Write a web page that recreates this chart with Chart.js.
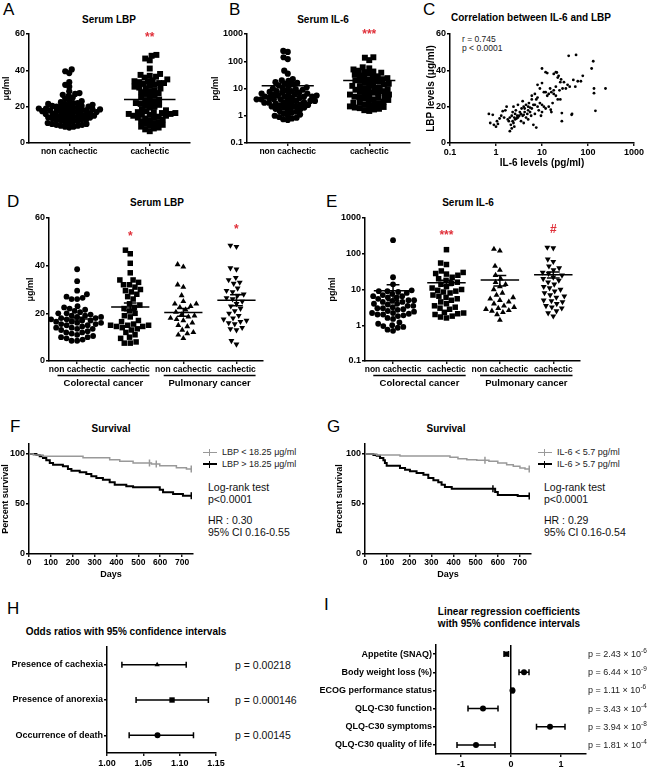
<!DOCTYPE html>
<html><head><meta charset="utf-8">
<script src="https://cdn.jsdelivr.net/npm/chart.js@4.4.1/dist/chart.umd.min.js"></script>
<style>
html,body{margin:0;padding:0;background:#fff;}
body{width:650px;height:770px;position:relative;overflow:hidden;font-family:'Liberation Sans',Arial,sans-serif;color:#000;}
canvas{position:absolute;}
.L{position:absolute;font-size:17px;line-height:17px;}
.T{position:absolute;font-weight:bold;font-size:10px;white-space:nowrap;transform:translate(-50%,-50%);}
.A{position:absolute;font-size:10.5px;white-space:nowrap;transform:translateY(-50%);color:#111;}
.S{position:absolute;font-size:8.5px;white-space:nowrap;transform:translateY(-50%);color:#222;}
.leg{position:absolute;font-size:9px;white-space:nowrap;transform:translateY(-50%);display:flex;align-items:center;color:#222;}
.sym{display:inline-block;width:14px;height:0;position:relative;margin-right:5px;}
.sym::after{content:'';position:absolute;left:6px;top:-4px;height:7px;border-left:1.5px solid;border-color:inherit;}
.sym.g{border-top:1.5px solid #999;border-color:#999;}
.sym.k{border-top:2px solid #000;border-color:#000;}
.P{position:absolute;font-size:10.5px;white-space:nowrap;transform:translateY(-50%);color:#111;}
.Q{position:absolute;font-size:9px;white-space:nowrap;transform:translateY(-50%);color:#222;}
.Q sup{font-size:6.5px;vertical-align:4px;line-height:0;}
</style></head><body>
<div class="L" style="left:3px;top:1px">A</div>
<div class="L" style="left:229px;top:1px">B</div>
<div class="L" style="left:423px;top:1px">C</div>
<div class="L" style="left:7px;top:193px">D</div>
<div class="L" style="left:326px;top:193px">E</div>
<div class="L" style="left:10px;top:418px">F</div>
<div class="L" style="left:327px;top:418px">G</div>
<div class="L" style="left:7px;top:600px">H</div>
<div class="L" style="left:324px;top:596px">I</div>

<div class="T" style="left:109px;top:19px">Serum LBP</div>
<div class="T" style="left:323px;top:19px">Serum IL-6</div>
<div class="T" style="left:531px;top:17px">Correlation between IL-6 and LBP</div>
<div class="T" style="left:157px;top:202px">Serum LBP</div>
<div class="T" style="left:468px;top:202px">Serum IL-6</div>
<div class="T" style="left:111px;top:428px">Survival</div>
<div class="T" style="left:446px;top:428px">Survival</div>
<div class="T" style="left:126px;top:631px">Odds ratios with 95% confidence intervals</div>
<div class="T" style="left:509px;top:611px">Linear regression coefficients</div>
<div class="T" style="left:509px;top:623px">with 95% confidence intervals</div>

<div class="S" style="left:462px;top:39px">r = 0.745</div>
<div class="S" style="left:462px;top:48px">p &lt; 0.0001</div>

<div class="leg" style="left:203px;top:452px"><span class="sym g"></span>LBP &lt; 18.25 μg/ml</div>
<div class="leg" style="left:203px;top:464px"><span class="sym k"></span>LBP &gt; 18.25 μg/ml</div>
<div class="A" style="left:208px;top:487px">Log-rank test</div>
<div class="A" style="left:208px;top:499px">p&lt;0.0001</div>
<div class="A" style="left:208px;top:520px">HR : 0.30</div>
<div class="A" style="left:208px;top:532px">95% CI 0.16-0.55</div>

<div class="leg" style="left:538px;top:452px"><span class="sym g"></span>IL-6 &lt; 5.7 pg/ml</div>
<div class="leg" style="left:538px;top:464px"><span class="sym k"></span>IL-6 &gt; 5.7 pg/ml</div>
<div class="A" style="left:544px;top:487px">Log-rank test</div>
<div class="A" style="left:544px;top:499px">p&lt;0.0001</div>
<div class="A" style="left:544px;top:520px">HR : 0.29</div>
<div class="A" style="left:544px;top:532px">95% CI 0.16-0.54</div>

<script>
// ================= DATA =================
const catAB = ['non cachectic', 'cachectic'];
const catDE = ['non cachectic', 'cachectic', 'non cachectic', 'cachectic'];
const groupDE = ['Colorectal cancer', 'Pulmonary cancer'];
const ticks60 = [0, 20, 40, 60];
const labels60 = ['0', '20', '40', '60'];
const ticksLog = [0.1, 1, 10, 100, 1000];
const labelsLog = ['0.1', '1', '10', '100', '1000'];

// Panel A - serum LBP (µg/ml)
const lbpNon = [40.5,39.5,38.5,33.5,32,31,28.5,27.5,27,26.5,26,25,24.5,23.5,23,22.5,22,22,21.5,21.5,21,21,20.5,20.5,20,20,20,19.5,19.5,19,19,19,18.5,18.5,18.5,18,18,18,17.5,17.5,17.5,17,17,17,16.5,16.5,16,16,16,15.5,15.5,15,15,15,14.5,14.5,14,14,14,13.5,13.5,13,13,12.5,12.5,12,12,11.5,11,11,10.5,10.5,10,10,9.5,9.5,9,9,8.5];
const lbpCach = [48.5,48,46.5,45.5,41,38,37.5,37,36.5,36,35,34.5,34,34,33.5,33,33,32.5,32,31.5,31,30.5,30,30,29,28.5,28,27.5,27,26,25.5,25,24,23.5,23,22.5,22,21.5,21,20.5,20,19.5,18.5,18,17.5,17,17,16.5,16.5,16,16,15.5,15.5,15,15,14.5,14,14,13.5,13,12.5,12,11.5,11,10.5,10,9.5,9,8.5,8,7.5,6.5];
const lbpMean = [19.0, 24.0];
const lbpSem = [0.8, 1.3];

// Panel B - serum IL-6 (pg/ml)
const il6Non = [240,220,140,120,45,35,22,20,19,17,16,15,14,13,12,11,10.5,10,9.5,9,8.5,8,8,7.5,7,7,6.5,6.5,6,6,6,5.5,5.5,5,5,5,5,4.5,4.5,4.5,4,4,4,4,3.8,3.5,3.5,3.5,3.2,3,3,3,3,2.8,2.6,2.5,2.5,2.4,2.2,2.2,2,2,2,1.8,1.7,1.6,1.5,1.4,1.3,1.2,1.1,1.05,1,0.9,0.85,0.8,0.75,0.7];
const il6Cach = [140,135,110,60,55,50,45,42,40,38,35,32,30,28,27,25,24,22,21,20,19,18,17,16,15,14,13,12.5,12,11,10.5,10,9.5,9,8.5,8,7.5,7,7,6.5,6,6,5.5,5,5,4.8,4.5,4.2,4,3.8,3.5,3.3,3,3,2.8,2.6,2.5,2.3,2.2,2.1,2,1.9,1.8,1.7,1.6,1.5];
const il6Mean = [12.5, 19.5];
const il6Sem = [3.5, 3.0];

// Panel C - correlation
const corrIL6 = [0.7,0.75,0.85,0.9,1.0,1.05,1.1,1.2,1.3,1.4,1.5,1.6,1.7,1.8,1.9,2.0,2.0,2.1,2.2,2.2,2.3,2.3,2.4,2.4,2.5,2.5,2.6,2.6,2.7,2.8,2.9,3.0,3.0,3.2,3.3,3.5,3.5,3.6,3.8,3.8,4.0,4.0,4.0,4.2,4.2,4.5,4.5,4.8,5.0,5.0,5.0,5.2,5.5,5.5,5.8,6.0,6.0,6.0,6.5,6.5,7.0,7.0,7.0,7.5,7.5,8.0,8.0,8.0,8.5,9.0,9.0,9.5,10,10,10,10,11,11,12,12,12,13,13,14,14,15,15.5,16,16,17,18,18,18,20,20,20,21,22,22,23,24,25,25,26,27,27,28,30,33,36,38,40,44,45,48,53,55,60,70,77,120,130,135,135,145,240];
const corrLBP = [16,11,15.5,10,9,12,10.5,13.5,15,17.5,14,18,20,13,12,14,6.5,10,8,15,12,17,11,20,9,14,13,16,18,13.5,15,14,21,15,17,12,16,19,23,15,11,15.5,20,17,19,14,21,16,13,18,20,22,17,19.5,15,24,19,26,10,21,16,27,21,8.5,24,20,25,32,18,22,30,15,17,21,33,41,20,28,19,28,39,38.5,26,20,27,30,18.3,17,28,22,29,27,38,26,31,39,38.8,24,36,37,29,24,33.5,35,16.5,12,30,33.5,30,32,48,31,15.5,16,34.7,31,48.5,34,34,37,41,45,30,27.4,17.7,30];

// Panel D - LBP by cancer type
const dCrcNon = [38.5,33.5,29.5,28,27,26.5,26,26,23,22.5,22,21.5,21,20.5,20,20,19.5,19,19,18.5,18.5,18,18,17.5,17.5,17,17,16.5,16.5,16,16,15.5,15.5,15,15,14.5,14,14,13.5,13.5,13,12.5,12,12,11.5,11,10.5,10,10,9.5,9,8.5,8.5];
const dCrcCach = [46.5,45,41,37,34,34,33,32,32,31,30,29.5,29,28,27,26,24,23.5,22.5,22,21,20,19,18.5,17,16.5,15.5,15,15,15,14.5,14.5,14,13.5,13,12,11,10,9.5,8,7.5,7.5];
const dPulNon = [40.5,39.5,32,31,27.5,25,24,24,23,22.5,21.5,20.5,19.5,19,18.5,18,17.5,17,16,15,14.5,13,12,11.5,11,9.5];
const dPulCach = [48.5,48,39,38.5,35,34,33,32.5,30.5,29.5,29,28,27.5,26.5,26,25,24,23,22,21,20,19,18,17.5,17,16.5,16,15.5,14,13.5,13,8.5,7];
const dMean = [17.6, 22.7, 20.4, 25.5];
const dSem = [0.8, 1.6, 1.6, 2.3];

// Panel E - IL-6 by cancer type
const eCrcNon = [240,22,14,9.5,9,9,8.5,8,7.5,7,6.5,6.5,6,6,5.5,5,5,4.8,4.5,4.5,4,4,3.8,3.5,3.5,3.2,3,3,2.8,2.7,2.5,2.4,2.2,2.2,2.1,2,2,1.9,1.8,1.6,1.5,1.2,1.1,1,0.95,0.9,0.85,0.75,0.7];
const eCrcCach = [130,55,50,33,30,28,27,25,22,20,18,16,15,14,12,11,10,9.5,9,8.5,8,7,6.5,6,5.5,5,4.5,4,3.5,3.2,3,2.8,2.3,2.2,2.1,2,1.8,1.7,1.6];
const ePulNon = [135,120,45,35,25,20,16,14,12,10,8,7,6,5.5,5,4.5,4,3.5,3.2,3,2.8,2.6,2.5,2.3,2,1.4];
const ePulCach = [150,145,70,60,45,40,35,30,28,25,22,20,18,16,14,12,11,10,9,8,7,6.5,6,5,4.8,4.5,4,3.5,3.2,3,2.5,2.2,1.8];
const eMean = [9.2, 15.5, 18.5, 26];
const eSem = [4.3, 2.5, 6, 5];

// Panels F, G - Kaplan-Meier survival
const daysTicks = [0,100,200,300,400,500,600,700];
const daysLabels = ['0','100','200','300','400','500','600','700'];
const survTicks = [0, 50, 100];
const survLabels = ['0', '50', '100'];
const fLowT = [0,20,64,247,369,415,476,560,598,674,720,742];
const fLowS = [100,99,97.7,96.3,94.3,92.7,91,90,88.3,86.3,85,85];
const fLowCensT = [551,582,742];
const fLowCensS = [91,90,85];
const fHighT = [0,34,49,64,79,95,110,155,178,194,232,262,285,308,338,369,392,445,476,598,613,659,704,742];
const fHighS = [100,99,97.7,96,93.7,91,89.3,87.7,85,83.3,81.7,80,77.7,76,74.3,71.7,69.3,67.7,66.7,64.3,61.7,60,58.3,58.3];
const fHighCensT = [742];
const fHighCensS = [58.3];
const gLowT = [0,53,158,384,420,460,505,560,600,640,670,700,723,742];
const gLowS = [100,99,98,96.7,95.3,94.3,93.7,92.7,91,89.3,87.7,86,85,85];
const gLowCensT = [542,742];
const gLowCensS = [93.7,85];
const gHighT = [0,38,53,68,83,90,98,158,181,203,233,264,286,309,331,346,361,392,588,600,690,742];
const gHighS = [100,99,98.3,96,93.7,91,88.3,86,84.3,82.7,81,79.3,76,73.7,71.7,69.3,67,65.3,62,59,58,58];
const gHighCensT = [578,742];
const gHighCensS = [65.3,58];

// Panel H - odds ratios
const hCats = ['Presence of cachexia', 'Presence of anorexia', 'Occurrence of death'];
const hEst = [1.069, 1.0895, 1.0695];
const hLo = [1.0205, 1.04, 1.0305];
const hHi = [1.109, 1.1395, 1.119];
const hP = ['p = 0.00218', 'p = 0.000146', 'p = 0.00145'];
const hTicks = [1.00, 1.05, 1.10, 1.15];
const hLabels = ['1.00', '1.05', '1.10', '1.15'];

// Panel I - linear regression coefficients
const iCats = ['Appetite (SNAQ)', 'Body weight loss (%)', 'ECOG performance status', 'QLQ-C30 function', 'QLQ-C30 symptoms', 'QLQ-C30 quality of life'];
const iEst = [-0.09, 0.26, 0.03, -0.56, 0.78, -0.7];
const iLo = [-0.14, 0.16, 0.015, -0.86, 0.51, -1.08];
const iHi = [-0.05, 0.36, 0.05, -0.26, 1.08, -0.32];
const iPm = ['2.43', '6.44', '1.11', '3.43', '3.94', '1.81'];
const iPe = ['-6', '-9', '-6', '-4', '-8', '-4'];
const iTicks = [-1, 0, 1];
const iLabels = ['-1', '0', '1'];

// ================= HELPERS =================
const FONT = "'Liberation Sans', Arial, sans-serif";
Chart.defaults.font.family = FONT;
Chart.defaults.color = '#000';

// beeswarm column-scatter layout (pxY: px per value unit/decade, pxX: px per category, D: min spacing px)
function swarm(vals, c, pxY, pxX, D, log) {
  const sorted = vals.slice().sort((a, b) => a - b);
  const placed = [], out = [];
  sorted.forEach(v => {
    const py = (log ? Math.log10(v) : v) * pxY;
    const cands = [0];
    placed.forEach(p => {
      const dy = py - p.py;
      if (Math.abs(dy) < D) { const dx = Math.sqrt(D * D - dy * dy); cands.push(p.px + dx, p.px - dx); }
    });
    cands.sort((a, b) => Math.abs(a) - Math.abs(b) || a - b);
    let best = 0;
    for (const cx of cands) {
      if (placed.every(p => (p.px - cx) * (p.px - cx) + (p.py - py) * (p.py - py) >= D * D - 0.01)) { best = cx; break; }
    }
    placed.push({px: best, py: py});
    out.push({x: c + best / pxX, y: v});
  });
  return out;
}
function pairs(xs, ys) { return xs.map((x, i) => ({x: x, y: ys[i]})); }

function axis(o) {
  return {
    type: o.type || 'linear', position: o.pos, min: o.min, max: o.max, reverse: !!o.rev,
    border: {display: true, color: '#000', width: 1.5},
    grid: {display: true, drawOnChartArea: !!o.zero, drawTicks: true, tickLength: o.tl === undefined ? 3 : o.tl,
      tickColor: '#000', tickWidth: 1.3, lineWidth: 1.5,
      color: (c) => (o.zero && c.tick && c.tick.value === 0) ? '#000' : 'rgba(0,0,0,0)'},
    ticks: {autoSkip: false, maxRotation: 0, minRotation: 0, color: '#000', padding: o.pad === undefined ? 1 : o.pad,
      font: {family: FONT, size: o.fs || 9, weight: 'bold'}, callback: (v, i) => o.labels[i]},
    afterBuildTicks: (s) => { s.ticks = o.ticks.map(v => ({value: v})); },
    afterFit: (s) => { if (o.pos === 'left') s.width = o.size; else s.height = o.size; },
    title: o.title ? {display: true, text: o.title, color: '#000', font: {family: FONT, size: o.tfs || 9, weight: 'bold'},
      padding: {top: o.tp || 0, bottom: o.tp || 0}} : {display: false}
  };
}

const meanSem = {
  id: 'meanSem',
  afterDatasetsDraw(chart, args, o) {
    if (!o || !o.means) return;
    const ctx = chart.ctx, xs = chart.scales.x, ys = chart.scales.y;
    ctx.save(); ctx.strokeStyle = '#000'; ctx.lineWidth = 1.5;
    for (let i = 0; i < o.means.length; i++) {
      const c = i + 1, m = o.means[i], s = o.sems[i];
      const y = ys.getPixelForValue(m), yt = ys.getPixelForValue(m + s), yb = ys.getPixelForValue(m - s);
      const xl = xs.getPixelForValue(c - o.hw), xr = xs.getPixelForValue(c + o.hw), xc = xs.getPixelForValue(c);
      const cl = xs.getPixelForValue(c - o.cw), cr = xs.getPixelForValue(c + o.cw);
      ctx.beginPath();
      ctx.moveTo(xl, y); ctx.lineTo(xr, y);
      ctx.moveTo(xc, yt); ctx.lineTo(xc, yb);
      ctx.moveTo(cl, yt); ctx.lineTo(cr, yt);
      ctx.moveTo(cl, yb); ctx.lineTo(cr, yb);
      ctx.stroke();
    }
    ctx.restore();
  }
};
const stars = {
  id: 'stars',
  afterDraw(chart, args, o) {
    if (!o || !o.items) return;
    const ctx = chart.ctx;
    ctx.save(); ctx.fillStyle = '#e0303a'; ctx.font = 'bold 12px ' + FONT; ctx.textAlign = 'center'; ctx.textBaseline = 'middle';
    for (let i = 0; i < o.items.length; i++) {
      const it = o.items[i];
      ctx.fillText(it.t, chart.scales.x.getPixelForValue(it.x), chart.scales.y.getPixelForValue(it.y));
    }
    ctx.restore();
  }
};
const groups = {
  id: 'groups',
  afterDraw(chart, args, o) {
    if (!o || !o.labels) return;
    const ctx = chart.ctx, xs = chart.scales.x, b = chart.chartArea.bottom;
    ctx.save(); ctx.strokeStyle = '#000'; ctx.lineWidth = 1.5; ctx.fillStyle = '#000';
    ctx.font = 'bold 9.5px ' + FONT; ctx.textAlign = 'center'; ctx.textBaseline = 'middle';
    for (let g = 0; g < o.labels.length; g++) {
      const a = 2 * g + 1, z = 2 * g + 2;
      const x1 = xs.getPixelForValue(a - 0.37), x2 = xs.getPixelForValue(z + 0.36);
      ctx.beginPath(); ctx.moveTo(x1, b + 14.5); ctx.lineTo(x2, b + 14.5); ctx.stroke();
      ctx.fillText(o.labels[g], (x1 + x2) / 2, b + 22.5);
    }
    ctx.restore();
  }
};
const ciBars = {
  id: 'ciBars',
  beforeDatasetsDraw(chart, args, o) {
    if (!o || !o.lo) return;
    const ctx = chart.ctx, xs = chart.scales.x, ys = chart.scales.y;
    ctx.save(); ctx.strokeStyle = '#000'; ctx.lineWidth = 1.5;
    for (let i = 0; i < o.lo.length; i++) {
      const y = ys.getPixelForValue(i + 1), a = xs.getPixelForValue(o.lo[i]), b = xs.getPixelForValue(o.hi[i]);
      ctx.beginPath(); ctx.moveTo(a, y); ctx.lineTo(b, y);
      ctx.moveTo(a, y - o.cap); ctx.lineTo(a, y + o.cap);
      ctx.moveTo(b, y - o.cap); ctx.lineTo(b, y + o.cap);
      ctx.stroke();
    }
    ctx.restore();
  }
};
Chart.register(meanSem, stars, groups, ciBars);

function make(pos, cfg) {
  const cv = document.createElement('canvas');
  cv.width = pos.w; cv.height = pos.h;
  cv.style.left = pos.x + 'px'; cv.style.top = pos.y + 'px';
  cv.style.width = pos.w + 'px'; cv.style.height = pos.h + 'px';
  document.body.appendChild(cv);
  cfg.options.responsive = false;
  cfg.options.animation = false;
  cfg.options.devicePixelRatio = 1;
  cfg.options.events = [];
  cfg.options.plugins = Object.assign({legend: {display: false}, tooltip: {enabled: false}}, cfg.options.plugins || {});
  return new Chart(cv, cfg);
}
function dots(data, style, r, rot) {
  return {type: 'scatter', data: data, pointStyle: style, pointRadius: r, pointRotation: rot || 0,
    pointBackgroundColor: '#000', pointBorderColor: '#000', pointBorderWidth: 0};
}
function km(t, s, color, w) {
  return {type: 'line', data: pairs(t, s), stepped: 'before', borderColor: color, borderWidth: w, pointRadius: 0, fill: false};
}
function cens(t, s, color) {
  return {type: 'line', data: pairs(t, s), showLine: false, pointStyle: 'line', pointRotation: 90, pointRadius: 3.5,
    pointBorderColor: color, pointBorderWidth: 1.5, pointBackgroundColor: color};
}

// ================= PANEL A =================
make({x: 0, y: 24, w: 205, h: 140}, {
  type: 'scatter',
  data: {datasets: [dots(swarm(lbpNon, 1, 1.817, 80.5, 4.4), 'circle', 3.1), dots(swarm(lbpCach, 2, 1.817, 80.5, 4.9), 'rect', 4.2)]},
  options: {
    layout: {padding: {left: 0, top: 10, right: 15, bottom: 5}},
    scales: {
      x: axis({pos: 'bottom', min: 0.5, max: 2.5, ticks: [1, 2], labels: catAB, size: 16, fs: 8.5}),
      y: axis({pos: 'left', min: 0, max: 60, ticks: ticks60, labels: labels60, size: 29, title: 'μg/ml', tp: 1})
    },
    plugins: {meanSem: {means: lbpMean, sems: lbpSem, hw: 0.32, cw: 0.08}, stars: {items: [{x: 2, y: 58, t: '**'}]}}
  }
});

// ================= PANEL B =================
make({x: 210, y: 24, w: 210, h: 140}, {
  type: 'scatter',
  data: {datasets: [dots(swarm(il6Non, 1, 27.25, 81.5, 4.6, true), 'circle', 3.1), dots(swarm(il6Cach, 2, 27.25, 81.5, 5.0, true), 'rect', 4.2)]},
  options: {
    layout: {padding: {left: 0, top: 10, right: 10, bottom: 5}},
    scales: {
      x: axis({pos: 'bottom', min: 0.5, max: 2.5, ticks: [1, 2], labels: catAB, size: 16, fs: 8.5}),
      y: axis({type: 'logarithmic', pos: 'left', min: 0.1, max: 1000, ticks: ticksLog, labels: labelsLog, size: 37, title: 'pg/ml', tp: 0})
    },
    plugins: {meanSem: {means: il6Mean, sems: il6Sem, hw: 0.32, cw: 0.08}, stars: {items: [{x: 2, y: 950, t: '***'}]}}
  }
});

// ================= PANEL C =================
make({x: 420, y: 24, w: 230, h: 150}, {
  type: 'scatter',
  data: {datasets: [dots(pairs(corrIL6, corrLBP), 'circle', 1.4)]},
  options: {
    layout: {padding: {left: 0, top: 10, right: 16, bottom: 2}},
    scales: {
      x: axis({type: 'logarithmic', pos: 'bottom', min: 0.1, max: 1000, ticks: ticksLog, labels: labelsLog, size: 29, title: 'IL-6 levels (pg/ml)', tfs: 10, tp: 3}),
      y: axis({pos: 'left', min: 0, max: 60, ticks: ticks60, labels: labels60, size: 30, title: 'LBP levels (μg/ml)', tfs: 10, tp: 5})
    }
  }
});

// ================= PANEL D =================
make({x: 20, y: 208, w: 255, h: 185}, {
  type: 'scatter',
  data: {datasets: [
    dots(swarm(dCrcNon, 1, 2.383, 53.3, 5.6), 'circle', 2.9),
    dots(swarm(dCrcCach, 2, 2.383, 53.3, 6.0), 'rect', 3.9),
    dots(swarm(dPulNon, 3, 2.383, 53.3, 6.2), 'triangle', 3.4),
    dots(swarm(dPulCach, 4, 2.383, 53.3, 6.2), 'triangle', 3.4, 180)
  ]},
  options: {
    layout: {padding: {left: 0, top: 10, right: 12, bottom: 19}},
    scales: {
      x: axis({pos: 'bottom', min: 0.47, max: 4.5, ticks: [1, 2, 3, 4], labels: catDE, size: 13, fs: 8.5}),
      y: axis({pos: 'left', min: 0, max: 60, ticks: ticks60, labels: labels60, size: 29, title: 'μg/ml', tp: 5.6})
    },
    plugins: {meanSem: {means: dMean, sems: dSem, hw: 0.36, cw: 0.12},
      stars: {items: [{x: 2, y: 52.3, t: '*'}, {x: 4, y: 55.2, t: '*'}]}, groups: {labels: groupDE}}
  }
});

// ================= PANEL E =================
make({x: 320, y: 208, w: 330, h: 185}, {
  type: 'scatter',
  data: {datasets: [
    dots(swarm(eCrcNon, 1, 35.75, 53.3, 5.6, true), 'circle', 2.9),
    dots(swarm(eCrcCach, 2, 35.75, 53.3, 6.0, true), 'rect', 3.9),
    dots(swarm(ePulNon, 3, 35.75, 53.3, 6.2, true), 'triangle', 3.4),
    dots(swarm(ePulCach, 4, 35.75, 53.3, 6.0, true), 'triangle', 3.4, 180)
  ]},
  options: {
    layout: {padding: {left: 0, top: 10, right: 70, bottom: 19}},
    scales: {
      x: axis({pos: 'bottom', min: 0.475, max: 4.5, ticks: [1, 2, 3, 4], labels: catDE, size: 13, fs: 8.5}),
      y: axis({type: 'logarithmic', pos: 'left', min: 0.1, max: 1000, ticks: ticksLog, labels: labelsLog, size: 45, title: 'pg/ml', tp: 7.6})
    },
    plugins: {meanSem: {means: eMean, sems: eSem, hw: 0.36, cw: 0.12},
      stars: {items: [{x: 2, y: 316, t: '***'}, {x: 4, y: 464, t: '#'}]}, groups: {labels: groupDE}}
  }
});

// ================= PANEL F =================
make({x: 0, y: 434, w: 200, h: 150}, {
  type: 'line',
  data: {datasets: [
    km(fLowT, fLowS, '#999', 1.5), cens(fLowCensT, fLowCensS, '#999'),
    km(fHighT, fHighS, '#000', 2), cens(fHighCensT, fHighCensS, '#000')
  ]},
  options: {
    layout: {padding: {left: 0, top: 10, right: 7, bottom: 4}},
    scales: {
      x: axis({pos: 'bottom', min: 0, max: 750, ticks: daysTicks, labels: daysLabels, size: 26, title: 'Days', tp: 0, fs: 8.5}),
      y: axis({pos: 'left', min: 0, max: 110, ticks: survTicks, labels: survLabels, size: 29, title: 'Percent survival', tp: 0})
    }
  }
});

// ================= PANEL G =================
make({x: 330, y: 434, w: 210, h: 150}, {
  type: 'line',
  data: {datasets: [
    km(gLowT, gLowS, '#999', 1.5), cens(gLowCensT, gLowCensS, '#999'),
    km(gHighT, gHighS, '#000', 2), cens(gHighCensT, gHighCensS, '#000')
  ]},
  options: {
    layout: {padding: {left: 0, top: 10, right: 9, bottom: 4}},
    scales: {
      x: axis({pos: 'bottom', min: 0, max: 750, ticks: daysTicks, labels: daysLabels, size: 26, title: 'Days', tp: 0, fs: 8.5}),
      y: axis({pos: 'left', min: 0, max: 110, ticks: survTicks, labels: survLabels, size: 35, title: 'Percent survival', tp: 4.6})
    }
  }
});

// ================= PANEL H =================
const chH = make({x: 0, y: 637, w: 230, h: 133}, {
  type: 'scatter',
  data: {datasets: [{type: 'scatter', data: pairs(hEst, [1, 2, 3]), pointStyle: ['triangle', 'rect', 'circle'],
    pointRadius: [3, 3.8, 3], pointBackgroundColor: '#000', pointBorderWidth: 0}]},
  options: {
    layout: {padding: {left: 0, top: 10, right: 14, bottom: 3}},
    scales: {
      x: axis({pos: 'bottom', min: 1.0, max: 1.15, ticks: hTicks, labels: hLabels, size: 14, pad: 2.5}),
      y: axis({pos: 'left', min: 0.5, max: 3.5, rev: true, ticks: [1, 2, 3], labels: hCats, size: 107, pad: 1})
    },
    plugins: {ciBars: {lo: hLo, hi: hHi, cap: 3}}
  }
});
hP.forEach((t, i) => {
  const d = document.createElement('div'); d.className = 'P'; d.textContent = t;
  d.style.left = '235px'; d.style.top = (637 + chH.scales.y.getPixelForValue(i + 1)) + 'px';
  document.body.appendChild(d);
});

// ================= PANEL I =================
const chI = make({x: 320, y: 635, w: 275, h: 135}, {
  type: 'scatter',
  data: {datasets: [{type: 'scatter', data: pairs(iEst, [1, 2, 3, 4, 5, 6]),
    pointStyle: ['rect', 'circle', 'circle', 'circle', 'circle', 'circle'],
    pointRadius: [3.6, 3, 3, 3, 3, 3], pointBackgroundColor: '#000', pointBorderWidth: 0}]},
  options: {
    layout: {padding: {left: 0, top: 10, right: 9, bottom: 2}},
    scales: {
      x: axis({pos: 'bottom', min: -1.5, max: 1.5, ticks: iTicks, labels: iLabels, size: 14, pad: 2.5, zero: true}),
      y: axis({pos: 'left', min: 0.5, max: 6.5, rev: true, ticks: [1, 2, 3, 4, 5, 6], labels: iCats, size: 116, pad: 1})
    },
    plugins: {ciBars: {lo: iLo, hi: iHi, cap: 3}}
  }
});
iPm.forEach((m, i) => {
  const d = document.createElement('div'); d.className = 'Q';
  d.innerHTML = 'p = ' + m + ' × 10<sup>' + iPe[i] + '</sup>';
  d.style.left = '588px'; d.style.top = (635 + chI.scales.y.getPixelForValue(i + 1)) + 'px';
  document.body.appendChild(d);
});
</script>
</body></html>
